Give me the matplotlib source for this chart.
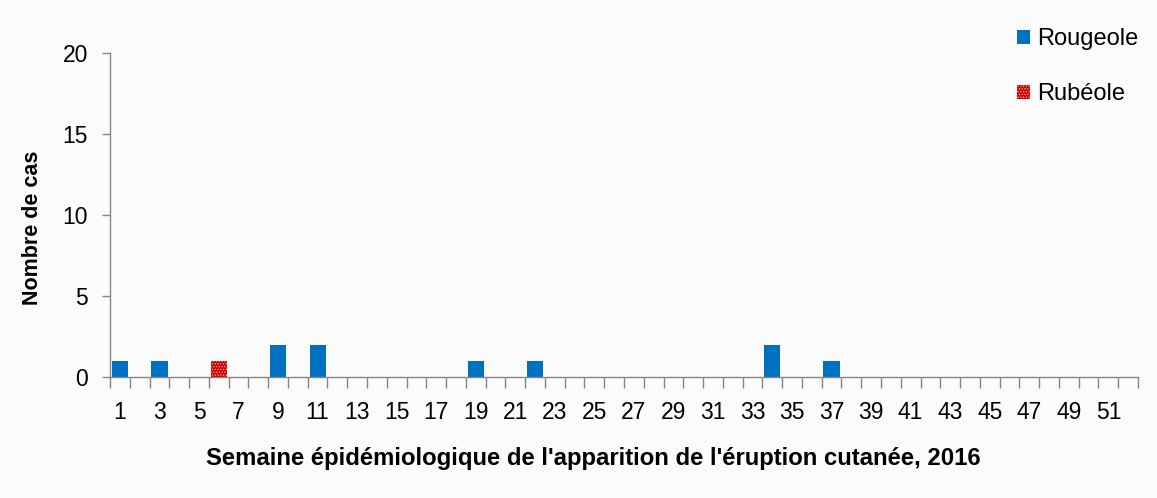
import numpy as np
import matplotlib
matplotlib.use('Agg')
import matplotlib.pyplot as plt

plt.rcParams['font.family'] = ['Liberation Sans', 'DejaVu Sans']

weeks = np.arange(1, 53)
rougeole = np.zeros(52)
for w, v in {1: 1, 3: 1, 9: 2, 11: 2, 19: 1, 22: 1, 34: 2, 37: 1}.items():
    rougeole[w - 1] = v
rubeole = np.zeros(52)
rubeole[6 - 1] = 1

BLUE = '#0070c0'
RED = '#d00000'
AX = '#868686'

fig = plt.figure(figsize=(11.57, 4.98), dpi=100)
fig.patch.set_facecolor('#fbfbfb')
ax = fig.add_axes([0.0951, 0.243, 0.8885, 0.6506])
ax.set_facecolor('#fbfbfb')

ax.bar(weeks, rougeole, width=0.82, color=BLUE, label='Rougeole')
plt.rcParams['hatch.color'] = '#ffb0b0'
plt.rcParams['hatch.linewidth'] = 0.6
ax.bar(weeks, rubeole, width=0.82, bottom=rougeole, color=RED, hatch='......',
       edgecolor='#ffb0b0', linewidth=0, label='Rubéole')

ax.set_xlim(0.5, 52.5)
ax.set_ylim(0, 20)
ax.set_yticks([0, 5, 10, 15, 20])
ax.set_xticks(weeks[::2])
ax.set_xticks(np.arange(0.5, 53, 1), minor=True)
ax.tick_params(axis='x', which='major', length=0, labelsize=16.5, pad=17)
ax.tick_params(axis='x', which='minor', length=8, color=AX, width=1)
ax.tick_params(axis='y', length=6, color=AX, width=1, labelsize=16.5, pad=10)
for s in ['top', 'right']:
    ax.spines[s].set_visible(False)
for s in ['left', 'bottom']:
    ax.spines[s].set_color(AX)
    ax.spines[s].set_linewidth(1)

ax.set_ylabel('Nombre de cas', fontsize=15.5, fontweight='bold')
ax.yaxis.set_label_coords(-0.065, 0.46)
ax.set_xlabel("Semaine épidémiologique de l'apparition de l'éruption cutanée, 2016",
              fontsize=17.2, fontweight='bold')
ax.xaxis.set_label_coords(0.47, -0.215)

leg = ax.legend(loc='upper left', bbox_to_anchor=(0.862, 1.142), frameon=False,
                fontsize=17, handlelength=0.55, handleheight=0.55, handletextpad=0.3,
                labelspacing=1.4)

fig.savefig('out.png', dpi=100, facecolor=fig.get_facecolor())
